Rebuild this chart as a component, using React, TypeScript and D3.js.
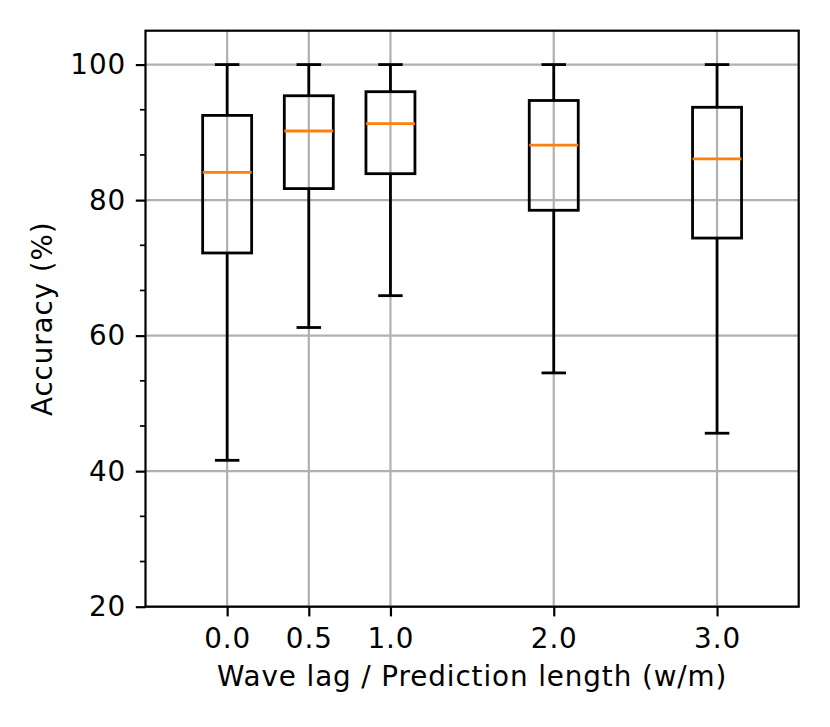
import { useEffect, useRef } from 'react';
import * as d3 from 'd3';

// box statistics
const positions = [0, 0.5, 1, 2, 3];
const tickLabels = ['0.0', '0.5', '1.0', '2.0', '3.0'];
const whiskerLow = [41.6, 61.2, 65.9, 54.5, 45.6];
const q1 = [72.2, 81.7, 83.9, 78.5, 74.4];
const median = [84.1, 90.2, 91.3, 88.1, 86.1];
const q3 = [92.5, 95.4, 96.0, 94.7, 93.7];
const whiskerHigh = [100, 100, 100, 100, 100];

const yMajor = [20, 40, 60, 80, 100];

const W = 830;
const H = 727;
const FONT = '"DejaVu Sans", sans-serif';
const FS = '27.8px';
const LS = '0.9px';

export default function App() {
  const ref = useRef<SVGSVGElement | null>(null);

  useEffect(() => {
    document.body.style.margin = '0';
    if (!ref.current) return;

    const margin = { top: 30.7, right: W - 798.7, bottom: H - 606.7, left: 145.5 };
    const width = W - margin.left - margin.right;
    const height = H - margin.top - margin.bottom;

    const root = d3.select(ref.current);
    root.selectAll('*').remove();
    const svg = root.append('g').attr('transform', `translate(${margin.left},${margin.top})`);

    const x = d3.scaleLinear().domain([-0.5, 3.5]).range([0, width]);
    const y = d3.scaleLinear().domain([20, 105]).range([height, 0]);

    const yMinor = d3.range(0, 106, 20 / 3)
      .filter((v) => v >= 20 && v <= 105 && !yMajor.some((m) => Math.abs(m - v) < 1e-6));

    // rejilla
    svg.append('g')
      .selectAll('line')
      .data(yMajor)
      .join('line')
      .attr('x1', 0).attr('x2', width)
      .attr('y1', (d) => y(d)).attr('y2', (d) => y(d))
      .attr('stroke', '#b0b0b0').attr('stroke-width', 2.2);
    svg.append('g')
      .selectAll('line')
      .data(positions)
      .join('line')
      .attr('y1', 0).attr('y2', height)
      .attr('x1', (d) => x(d)).attr('x2', (d) => x(d))
      .attr('stroke', '#b0b0b0').attr('stroke-width', 2.2);

    // cajas
    const boxW = 0.3;
    const capW = 0.15;
    const lw = 2.8;
    positions.forEach((p, i) => {
      const g = svg.append('g').attr('fill', 'none').attr('stroke', 'black').attr('stroke-width', lw);
      g.append('rect')
        .attr('x', x(p - boxW / 2))
        .attr('width', x(p + boxW / 2) - x(p - boxW / 2))
        .attr('y', y(q3[i]))
        .attr('height', y(q1[i]) - y(q3[i]));
      g.append('line')
        .attr('x1', x(p)).attr('x2', x(p))
        .attr('y1', y(q1[i])).attr('y2', y(whiskerLow[i]));
      g.append('line')
        .attr('x1', x(p)).attr('x2', x(p))
        .attr('y1', y(q3[i])).attr('y2', y(whiskerHigh[i]));
      g.append('line')
        .attr('x1', x(p - capW / 2)).attr('x2', x(p + capW / 2))
        .attr('y1', y(whiskerLow[i])).attr('y2', y(whiskerLow[i]));
      g.append('line')
        .attr('x1', x(p - capW / 2)).attr('x2', x(p + capW / 2))
        .attr('y1', y(whiskerHigh[i])).attr('y2', y(whiskerHigh[i]));
      g.append('line')
        .attr('x1', x(p - boxW / 2)).attr('x2', x(p + boxW / 2))
        .attr('y1', y(median[i])).attr('y2', y(median[i]))
        .attr('stroke', '#ff7f0e');
    });

    // ejes
    const xAxis = svg.append('g')
      .attr('transform', `translate(0,${height})`)
      .call(
        d3.axisBottom(x)
          .tickValues(positions)
          .tickFormat((_, i) => tickLabels[i])
          .tickSize(9.7)
          .tickPadding(9.7)
          .tickSizeOuter(0)
      );
    const yAxis = svg.append('g')
      .call(
        d3.axisLeft(y)
          .tickValues(yMajor)
          .tickFormat(d3.format('d'))
          .tickSize(9.7)
          .tickPadding(9.7)
          .tickSizeOuter(0)
      );
    svg.append('g')
      .selectAll('line')
      .data(yMinor)
      .join('line')
      .attr('x1', -5.6).attr('x2', 0)
      .attr('y1', (d) => y(d)).attr('y2', (d) => y(d))
      .attr('stroke', 'black').attr('stroke-width', 1.7);

    [xAxis, yAxis].forEach((a) => {
      a.select('.domain').remove();
      a.selectAll('line').attr('stroke', 'black').attr('stroke-width', 2.2);
      a.selectAll('text')
        .attr('fill', 'black')
        .style('font-family', FONT)
        .style('font-size', FS)
        .style('letter-spacing', LS);
    });
    xAxis.selectAll('text').attr('dy', '0.71em').attr('y', 21.6);

    // marco
    svg.append('rect')
      .attr('width', width).attr('height', height)
      .attr('fill', 'none').attr('stroke', 'black').attr('stroke-width', 2.2);

    // etiquetas
    root.append('text')
      .attr('x', margin.left + width / 2)
      .attr('y', 686)
      .attr('text-anchor', 'middle')
      .style('font-family', FONT)
      .style('font-size', FS)
      .style('letter-spacing', LS)
      .text('Wave lag / Prediction length (w/m)');
    root.append('text')
      .attr('transform', `translate(52,${margin.top + height / 2}) rotate(-90)`)
      .attr('text-anchor', 'middle')
      .style('font-family', FONT)
      .style('font-size', FS)
      .style('letter-spacing', LS)
      .text('Accuracy (%)');
  }, []);

  return <svg ref={ref} width={W} height={H} style={{ display: 'block', background: 'white' }}></svg>;
}
